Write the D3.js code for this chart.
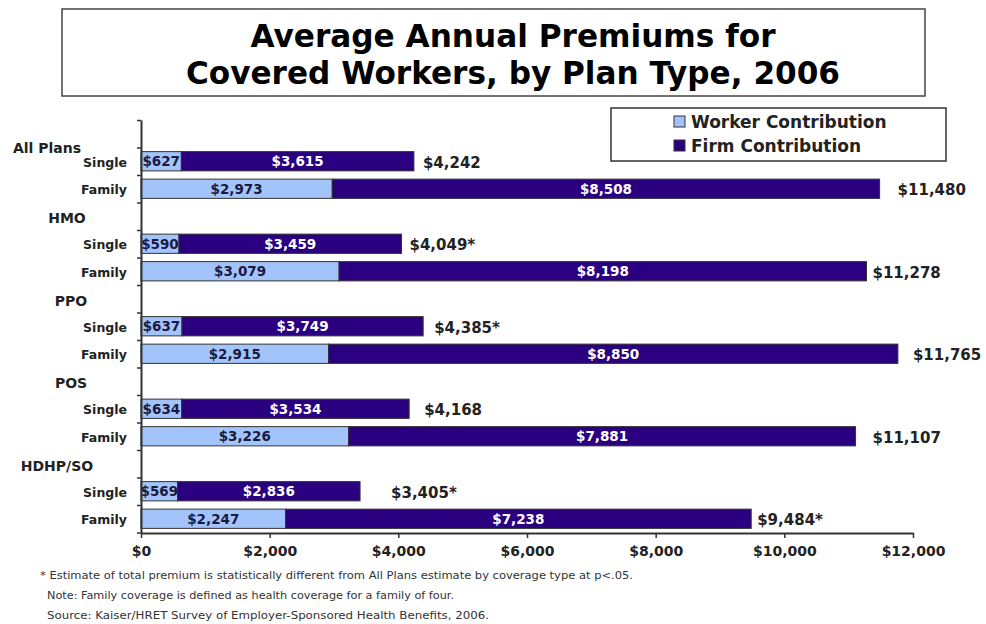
<!DOCTYPE html>
<html>
<head>
<meta charset="utf-8">
<script src="https://cdn.jsdelivr.net/npm/d3@7"></script>
<style>
	body { margin: 0; background: #fff; }
	text { font-family: "DejaVu Sans", Verdana, sans-serif; }
</style>
</head>
<body>
<div class="chart-wrapper"></div>
<script>

// chart data
const plans = ['All Plans', 'HMO', 'PPO', 'POS', 'HDHP/SO']
const coverage = ['Single', 'Family']
const worker = [627, 2973, 590, 3079, 637, 2915, 634, 3226, 569, 2247]
const firm = [3615, 8508, 3459, 8198, 3749, 8850, 3534, 7881, 2836, 7238]
const totals = [4242, 11480, 4049, 11278, 4385, 11765, 4168, 11107, 3405, 9484]
const starred = [false, false, true, false, true, false, false, false, true, true]
const xTicks = [0, 2000, 4000, 6000, 8000, 10000, 12000]
const series = ['Worker Contribution', 'Firm Contribution']
const titleLines = ['Average Annual Premiums for', 'Covered Workers, by Plan Type, 2006']
const notes = [
	'* Estimate of total premium is statistically different from All Plans estimate by coverage type at p<.05.',
	'Note:  Family coverage is defined as health coverage for a family of four.',
	'Source:  Kaiser/HRET Survey of Employer-Sponsored Health Benefits, 2006.'
]

// layout tweaks (label placement as in the original)
const headerX = [47, 67, 71, 71, 57]
const totalDx = [9, 18, 8, 6, 11, 15, 15, 17, 31, 6]

const colors = ['#a3c3fb', '#2b0080']

let width = 986, height = 624
let svg = d3.select('.chart-wrapper').append('svg')
	.attr('width', width)
	.attr('height', height)

// title box
svg.append('rect')
	.attr('x', 62).attr('y', 9).attr('width', 863).attr('height', 87)
	.attr('fill', '#fff').attr('stroke', '#444').attr('stroke-width', 1.5)

svg.selectAll('.title').data(titleLines).enter().append('text')
	.attr('class', 'title')
	.attr('x', 513)
	.attr('y', (d, i) => 47 + i * 37)
	.attr('text-anchor', 'middle')
	.attr('font-size', 32)
	.attr('font-weight', 'bold')
	.attr('textLength', (d, i) => i == 0 ? 525 : 654)
	.attr('lengthAdjust', 'spacingAndGlyphs')
	.text(d => d)

// rows: a header slot then Single / Family for each plan
let slots = []
plans.forEach(p => {
	slots.push(p + '|head')
	coverage.forEach(c => slots.push(p + '|' + c))
})

let rows = []
plans.forEach((p, pi) => {
	coverage.forEach((c, ci) => {
		let i = pi * 2 + ci
		rows.push({ plan: p, cov: c, worker: worker[i], firm: firm[i], total: totals[i], star: starred[i], i: i })
	})
})

let x = d3.scaleLinear().domain([0, 12000]).range([141, 913])
let y = d3.scaleBand().domain(slots).range([120, 532.5])
let yIdx = d3.scaleLinear().domain([0, slots.length]).range([120, 532.5])

let barH = y.bandwidth() * 0.7
let money = d => '$' + d3.format(',')(d)

let g = svg.append('g')

rows.forEach(r => {
	let yc = y(r.plan + '|' + r.cov) + y.bandwidth() / 2
	let segs = [
		{ x0: 0, x1: r.worker, v: r.worker, c: colors[0], t: '#1a1a40' },
		{ x0: r.worker, x1: r.worker + r.firm, v: r.firm, c: colors[1], t: '#fff' }
	]
	segs.forEach(s => {
		g.append('rect')
			.attr('x', x(s.x0))
			.attr('y', yc - barH / 2)
			.attr('width', x(s.x1) - x(s.x0))
			.attr('height', barH)
			.attr('fill', s.c)
			.attr('stroke', '#333')
			.attr('stroke-width', 1)
		g.append('text')
			.attr('x', (x(s.x0) + x(s.x1)) / 2)
			.attr('y', yc)
			.attr('dy', '0.36em')
			.attr('text-anchor', 'middle')
			.attr('font-size', 13.5)
			.attr('font-weight', 'bold')
			.attr('fill', s.t)
			.text(money(s.v))
	})
	g.append('text')
		.attr('x', x(r.worker + r.firm) + totalDx[r.i])
		.attr('y', yc + 1)
		.attr('dy', '0.36em')
		.attr('font-size', 15)
		.attr('font-weight', 'bold')
		.attr('fill', '#222')
		.text(money(r.total) + (r.star ? '*' : ''))
	g.append('text')
		.attr('x', 127)
		.attr('y', yc + 1)
		.attr('dy', '0.36em')
		.attr('text-anchor', 'end')
		.attr('font-size', 12.5)
		.attr('font-weight', 'bold')
		.attr('fill', '#222')
		.text(r.cov)
})

plans.forEach((p, pi) => {
	let yc = y(p + '|head') + y.bandwidth() / 2 + (pi == 0 ? 14 : 2)
	g.append('text')
		.attr('x', headerX[pi])
		.attr('y', yc)
		.attr('dy', '0.36em')
		.attr('text-anchor', 'middle')
		.attr('font-size', 14)
		.attr('font-weight', 'bold')
		.attr('fill', '#222')
		.text(p)
})

// axes
let yAxis = svg.append('g')
	.attr('transform', 'translate(141,0)')
	.call(d3.axisLeft(yIdx).ticks(slots.length).tickFormat('').tickSize(4).tickSizeOuter(0))
yAxis.select('.domain').attr('stroke', '#333').attr('stroke-width', 2)
yAxis.selectAll('.tick line').attr('stroke', '#333').attr('stroke-width', 1.5)

let xAxis = svg.append('g')
	.attr('transform', 'translate(0,533)')
	.call(d3.axisBottom(x).tickValues(xTicks).tickFormat(money).tickSize(5).tickSizeOuter(0).tickPadding(8))
xAxis.select('.domain').attr('stroke', '#333').attr('stroke-width', 2)
xAxis.selectAll('.tick line').attr('stroke', '#333').attr('stroke-width', 1.5)
xAxis.selectAll('.tick text')
	.attr('font-family', '"DejaVu Sans", sans-serif')
	.attr('font-size', 14)
	.attr('font-weight', 'bold')
	.attr('fill', '#222')

// legend
let legend = svg.append('g')
legend.append('rect')
	.attr('x', 611).attr('y', 108).attr('width', 335).attr('height', 53)
	.attr('fill', '#fff').attr('stroke', '#333').attr('stroke-width', 1.5)
series.forEach((s, i) => {
	let ly = 122 + i * 24
	legend.append('rect')
		.attr('x', 674).attr('y', ly - 6).attr('width', 11).attr('height', 11)
		.attr('fill', colors[i]).attr('stroke', '#333').attr('stroke-width', 1)
	legend.append('text')
		.attr('x', 691).attr('y', ly)
		.attr('dy', '0.36em')
		.attr('font-size', 17)
		.attr('font-weight', 'bold')
		.attr('fill', '#222')
		.text(s)
})

// footnotes
svg.selectAll('.note').data(notes).enter().append('text')
	.attr('class', 'note')
	.attr('x', (d, i) => i == 0 ? 40 : 47)
	.attr('y', (d, i) => 579 + i * 20)
	.attr('font-size', 10)
	.attr('fill', '#333')
	.attr('textLength', (d, i) => [593, 407, 442][i])
	.attr('lengthAdjust', 'spacingAndGlyphs')
	.text(d => d)

</script>
</body>
</html>
